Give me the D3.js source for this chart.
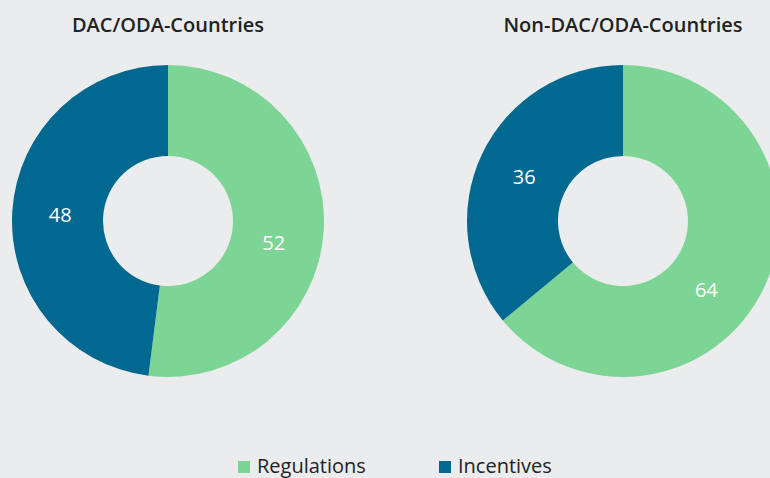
<!DOCTYPE html>
<html>
<head>
<meta charset="utf-8">
<script src="https://cdn.jsdelivr.net/npm/d3@7"></script>
<style>
  html, body { margin: 0; padding: 0; background: #ebecee; }
  svg { display: block; }
  text { font-family: "Open Sans", sans-serif; }
</style>
</head>
<body>
<div id="chart"></div>
<script>
// ---- data ----
const chartTitles = ["DAC/ODA-Countries", "Non-DAC/ODA-Countries"];
const categories = ["Regulations", "Incentives"];
const dacValues = [52, 48];
const nonDacValues = [64, 36];

// ---- layout / style ----
const W = 770, H = 478;
const colors = ["#7dd595", "#016990"];
const centersX = [168, 623];
const centerY = 221;
const outerR = 156, innerR = 65, labelR = 108;
// where, within each slice, the label sits (fraction of slice span)
const labelFrac = [[0.544, 0.497], [0.562, 0.49]];

const svg = d3.select("#chart").append("svg")
  .attr("width", W).attr("height", H)
  .style("background", "#ebecee");

const color = d3.scaleOrdinal().domain(categories).range(colors);
const pie = d3.pie().sort(null).value(d => d.value);
const arc = d3.arc().innerRadius(innerR).outerRadius(outerR);

[dacValues, nonDacValues].forEach((vals, ci) => {
  const data = categories.map((c, i) => ({ cat: c, value: vals[i] }));
  const arcs = pie(data);
  const g = svg.append("g").attr("transform", `translate(${centersX[ci]},${centerY})`);

  g.selectAll("path.slice").data(arcs).join("path")
    .attr("class", "slice")
    .attr("d", arc)
    .attr("fill", d => color(d.data.cat));

  g.selectAll("text.lbl").data(arcs).join("text")
    .attr("class", "lbl")
    .attr("transform", (d, i) => {
      const a = d.startAngle + (d.endAngle - d.startAngle) * labelFrac[ci][i];
      return `translate(${labelR * Math.sin(a)},${-labelR * Math.cos(a)})`;
    })
    .attr("text-anchor", "middle")
    .attr("dy", "0.35em")
    .attr("fill", "#ffffff")
    .attr("font-size", 20)
    .text(d => d.data.value);

  svg.append("text")
    .attr("x", centersX[ci])
    .attr("y", 32)
    .attr("text-anchor", "middle")
    .attr("font-size", 20)
    .attr("font-weight", 600)
    .attr("fill", "#222222")
    .text(chartTitles[ci]);
});

// ---- legend ----
const legendX = [238, 439];
const legend = svg.append("g");
categories.forEach((c, i) => {
  legend.append("rect")
    .attr("x", legendX[i]).attr("y", 461)
    .attr("width", 12).attr("height", 12)
    .attr("fill", color(c));
  legend.append("text")
    .attr("x", legendX[i] + 19).attr("y", 473)
    .attr("font-size", 20)
    .attr("fill", "#222222")
    .text(c);
});
</script>
</body>
</html>
